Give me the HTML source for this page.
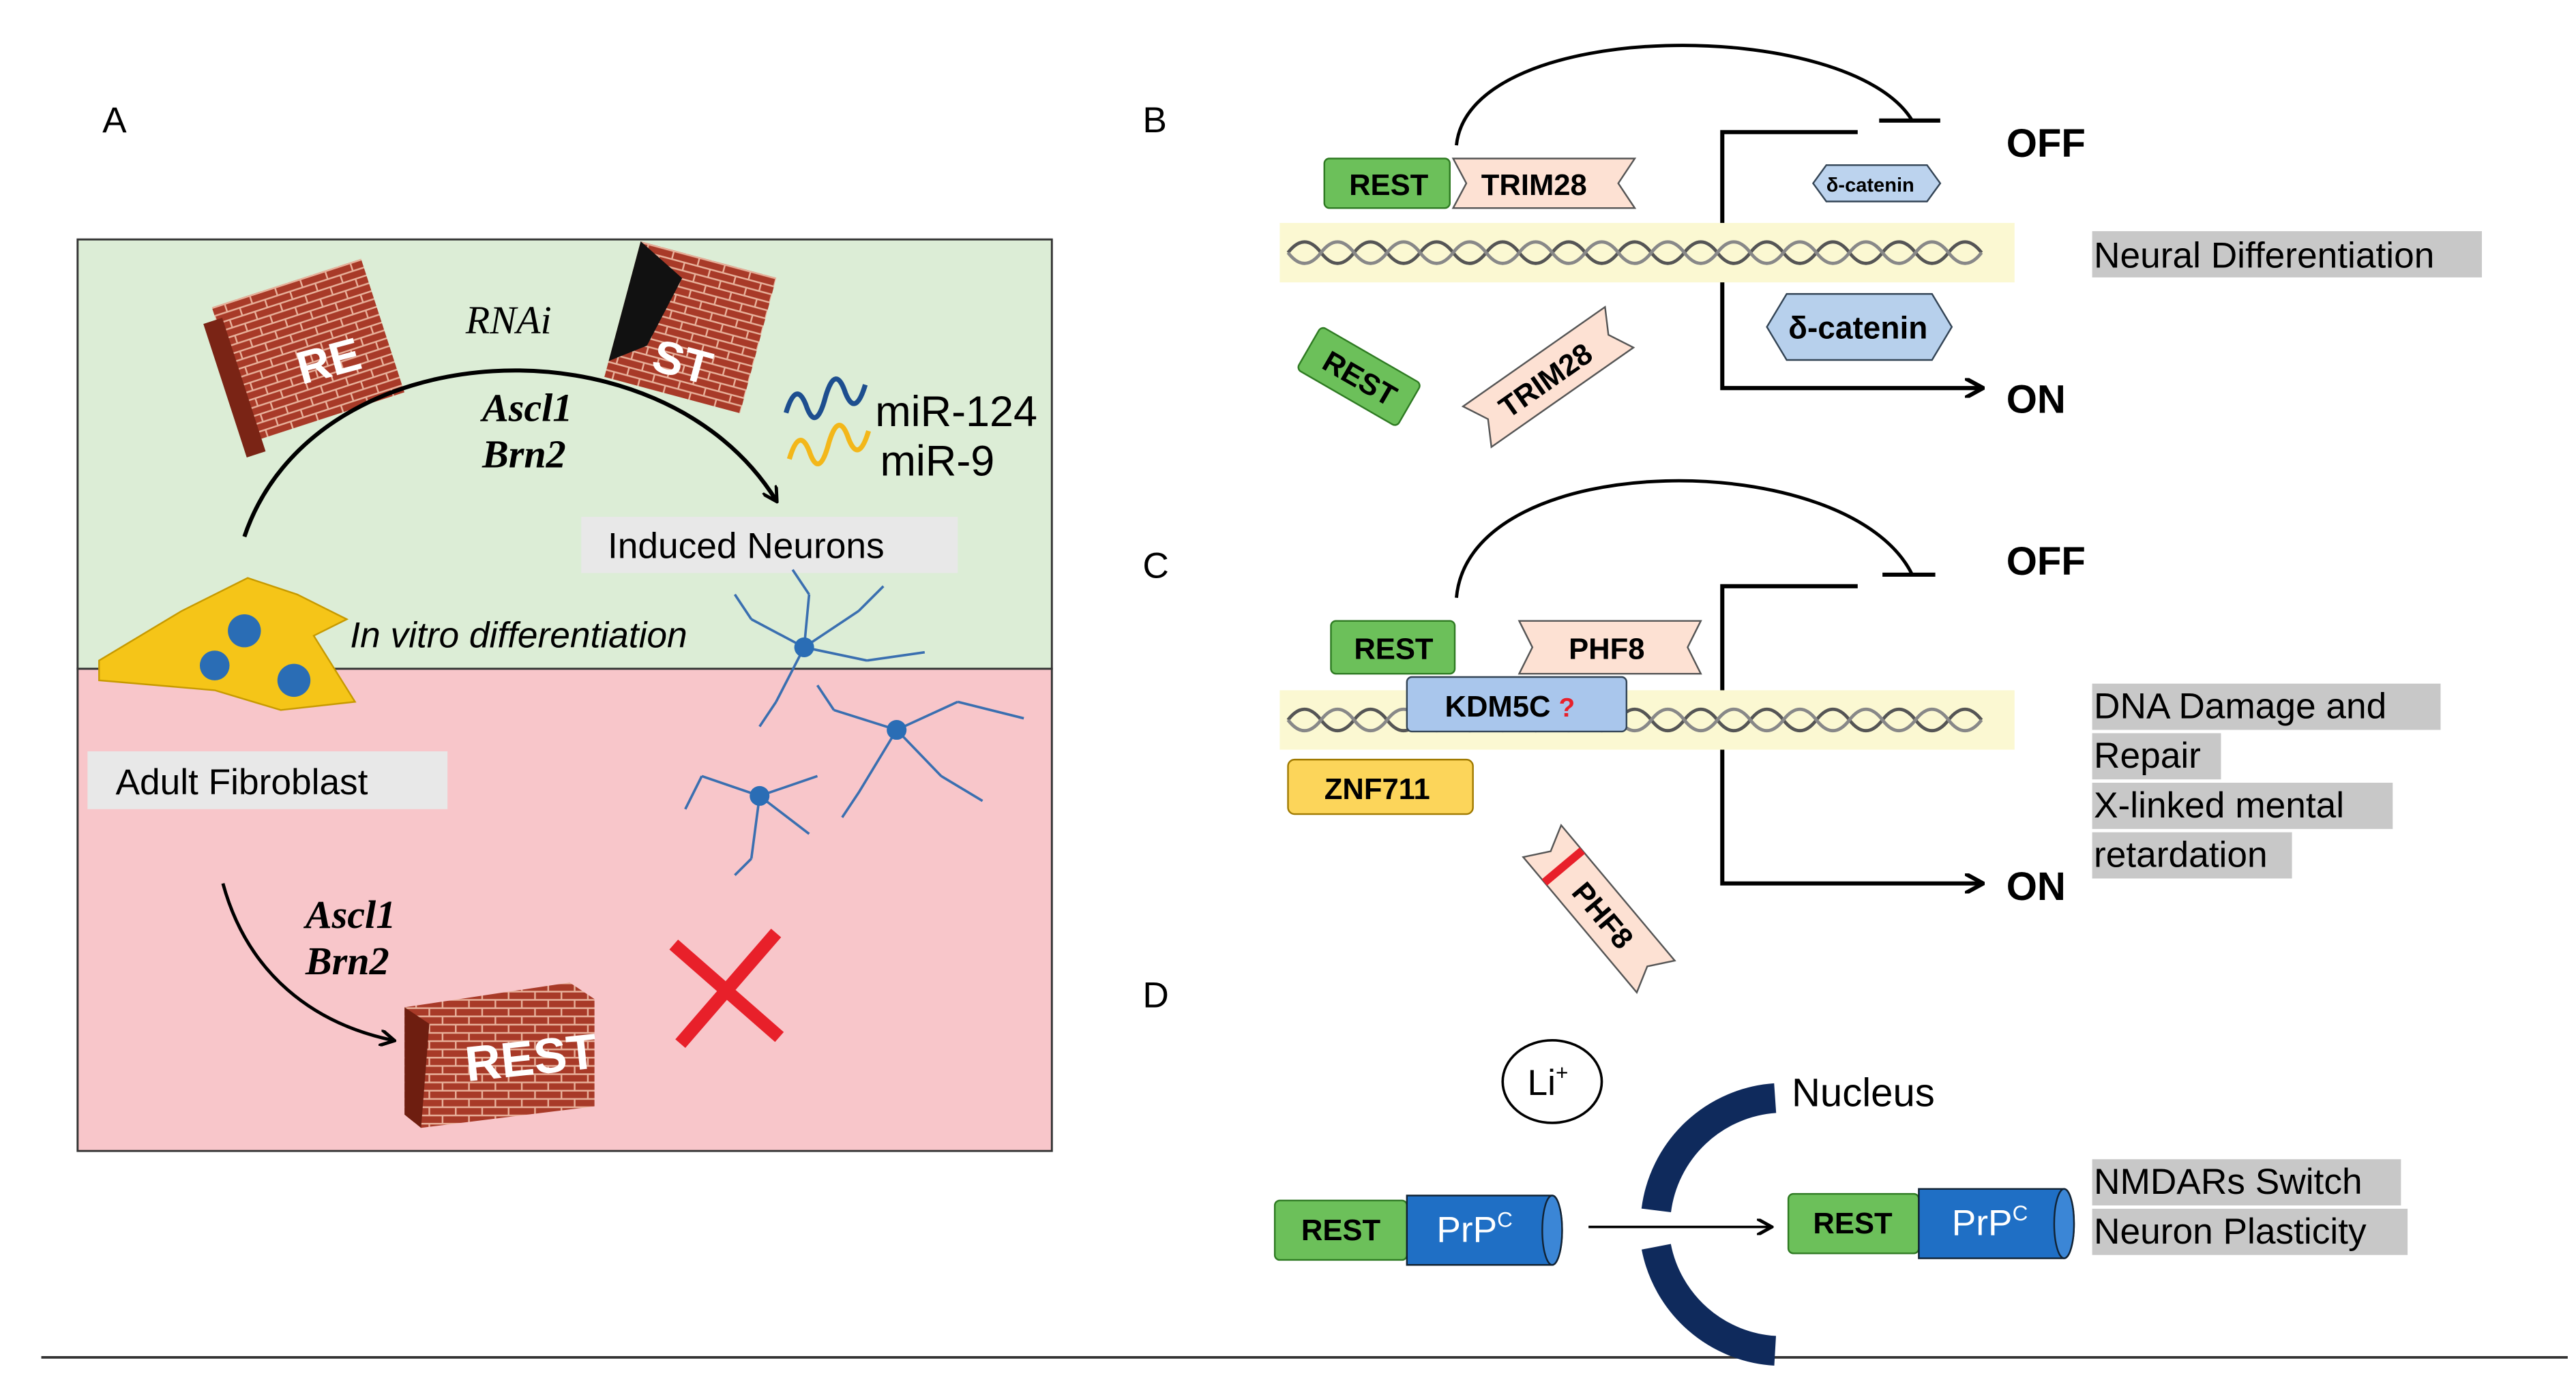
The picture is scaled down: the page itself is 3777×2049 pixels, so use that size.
<!DOCTYPE html>
<html><head><meta charset="utf-8"><style>
html,body{margin:0;padding:0;background:#fff;}
svg{display:block;}
text{font-family:"Liberation Sans",sans-serif;}
.ser{font-family:"Liberation Serif",serif;}
</style></head><body>
<svg width="3777" height="2049" viewBox="0 0 1560 846" preserveAspectRatio="none" xmlns="http://www.w3.org/2000/svg">
<defs>
<pattern id="brick" width="16" height="10" patternUnits="userSpaceOnUse">
<rect width="16" height="10" fill="#a83a28"/>
<path d="M0 0.5H16M0 5.5H16M4 0.5V5.5M12 5.5V10" stroke="#e8b09a" stroke-width="1"/>
</pattern>
<marker id="ah" markerWidth="10" markerHeight="10" refX="8" refY="5" orient="auto" markerUnits="userSpaceOnUse"><path d="M0 0L9 5L0 10" fill="none" stroke="#000" stroke-width="2"/></marker>
<marker id="ah2" markerWidth="12" markerHeight="12" refX="10" refY="6" orient="auto" markerUnits="userSpaceOnUse"><path d="M0 0L11 6L0 12" fill="none" stroke="#000" stroke-width="2.5"/></marker>
<g id="dna">
<rect x="0" y="0" width="445" height="36" fill="#fbf8d2"/>
<path d="M5 18 Q 15 5 25 18 T 45 18 T 65 18 T 85 18 T 105 18 T 125 18 T 145 18 T 165 18 T 185 18 T 205 18 T 225 18 T 245 18 T 265 18 T 285 18 T 305 18 T 325 18 T 345 18 T 365 18 T 385 18 T 405 18 T 425 18" fill="none" stroke="#555" stroke-width="2"/>
<path d="M5 18 Q 15 31 25 18 T 45 18 T 65 18 T 85 18 T 105 18 T 125 18 T 145 18 T 165 18 T 185 18 T 205 18 T 225 18 T 245 18 T 265 18 T 285 18 T 305 18 T 325 18 T 345 18 T 365 18 T 385 18 T 405 18 T 425 18" fill="none" stroke="#888" stroke-width="2"/>
</g>
</defs>

<!-- Panel A -->
<text x="62" y="80" font-size="22">A</text>
<rect x="47" y="145" width="590" height="260" fill="#dcedd6" stroke="#333" stroke-width="1.2"/>
<rect x="47" y="405" width="590" height="292" fill="#f8c6ca" stroke="#333" stroke-width="1.2"/>
<g transform="rotate(-18 185 215)"><rect x="140" y="170" width="95" height="85" fill="url(#brick)"/><rect x="132" y="178" width="12" height="85" fill="#7a2415"/></g>
<text x="180" y="228" font-size="28" font-weight="bold" fill="#fff" transform="rotate(-15 200 220)">RE</text>
<g transform="rotate(15 415 200)"><rect x="375" y="155" width="85" height="85" fill="url(#brick)"/><path d="M375 155 L405 170 L395 215 L375 230Z" fill="#111"/></g>
<text x="395" y="228" font-size="28" font-weight="bold" fill="#fff" transform="rotate(15 410 220)">ST</text>
<text x="282" y="202" font-size="24" font-style="italic" class="ser">RNAi</text>
<path d="M148 325 C 190 200 400 190 470 303" fill="none" stroke="#000" stroke-width="2.5" marker-end="url(#ah)"/>
<text x="292" y="255" font-size="24" font-weight="bold" font-style="italic" class="ser">Ascl1</text>
<text x="292" y="283" font-size="24" font-weight="bold" font-style="italic" class="ser">Brn2</text>
<path d="M476 250 q6 -20 12 -5 q6 18 12 -5 q6 -20 12 -2 q6 15 12 -5" fill="none" stroke="#1d4e8f" stroke-width="3"/>
<path d="M478 278 q6 -20 12 -5 q6 18 12 -5 q6 -20 12 -2 q6 15 12 -5" fill="none" stroke="#f3b71a" stroke-width="3"/>
<text x="530" y="258" font-size="26">miR-124</text>
<text x="533" y="288" font-size="26">miR-9</text>
<rect x="352" y="313" width="228" height="34" fill="#e8e8e8"/>
<text x="368" y="338" font-size="22">Induced Neurons</text>
<path d="M60 400 L110 370 L150 350 L180 360 L210 375 L190 385 L215 425 L170 430 L130 418 L60 412Z" fill="#f5c518" stroke="#c79a00"/>
<circle cx="148" cy="382" r="10" fill="#2a6db5"/><circle cx="130" cy="403" r="9" fill="#2a6db5"/><circle cx="178" cy="412" r="10" fill="#2a6db5"/>
<text x="212" y="392" font-size="22" font-style="italic">In vitro differentiation</text>
<g stroke="#3a6fb0" stroke-width="1.5" fill="none">
<path d="M487 392 L455 375 M487 392 L520 370 M487 392 L470 425 M487 392 L525 400 M455 375 L445 360 M520 370 L535 355 M470 425 L460 440 M525 400 L560 395 M487 392 L490 360 M490 360 L480 345"/>
<path d="M543 442 L505 430 M543 442 L580 425 M543 442 L570 470 M543 442 L520 480 M580 425 L620 435 M505 430 L495 415 M570 470 L595 485 M520 480 L510 495"/>
<path d="M460 482 L425 470 M460 482 L495 470 M460 482 L455 520 M460 482 L490 505 M425 470 L415 490 M455 520 L445 530"/>
</g>
<circle cx="487" cy="392" r="6" fill="#2a6db5"/><circle cx="543" cy="442" r="6" fill="#2a6db5"/><circle cx="460" cy="482" r="6" fill="#2a6db5"/>
<rect x="53" y="455" width="218" height="35" fill="#e8e8e8"/>
<text x="70" y="481" font-size="22">Adult Fibroblast</text>
<path d="M135 535 C 150 590 190 620 238 630" fill="none" stroke="#000" stroke-width="2" marker-end="url(#ah)"/>
<text x="185" y="562" font-size="24" font-weight="bold" font-style="italic" class="ser">Ascl1</text>
<text x="185" y="590" font-size="24" font-weight="bold" font-style="italic" class="ser">Brn2</text>
<path d="M245 610 L345 595 L360 605 L360 670 L255 683 L245 675Z" fill="url(#brick)"/>
<path d="M245 610 L260 620 L255 683 L245 675Z" fill="#6e1e10"/>
<text x="282" y="652" font-size="30" font-weight="bold" fill="#fff" transform="rotate(-6 310 645)">REST</text>
<path d="M408 572 L472 628 M470 565 L412 632" stroke="#e8202a" stroke-width="8"/>

<line x1="25" y1="822" x2="1555" y2="822" stroke="#333" stroke-width="1.5"/>

<!-- Panel B -->
<text x="692" y="80" font-size="22">B</text>
<path d="M882 88 C 890 10 1120 10 1158 73" fill="none" stroke="#000" stroke-width="2"/>
<line x1="1138" y1="73" x2="1175" y2="73" stroke="#000" stroke-width="2.5"/>
<path d="M1125 80 H1043 V235 H1200" fill="none" stroke="#000" stroke-width="2.5" marker-end="url(#ah2)"/>
<text x="1215" y="95" font-size="24" font-weight="bold">OFF</text>
<text x="1215" y="250" font-size="24" font-weight="bold">ON</text>
<use href="#dna" x="775" y="135"/>
<rect x="802" y="96" width="76" height="30" rx="3" fill="#6cc05a" stroke="#2e7a22"/>
<text x="817" y="118" font-size="18" font-weight="bold">REST</text>
<path d="M880 96 H990 L980 111 L990 126 H880 L888 111Z" fill="#fde1d3" stroke="#555"/>
<text x="897" y="118" font-size="18" font-weight="bold">TRIM28</text>
<path d="M1098 111 L1106 100 H1167 L1175 111 L1167 122 H1106Z" fill="#bcd3ee" stroke="#345"/>
<text x="1106" y="116" font-size="12" font-weight="bold">δ-catenin</text>
<path d="M1070 198 L1082 178 H1170 L1182 198 L1170 218 H1082Z" fill="#b7d0ec" stroke="#345"/>
<text x="1083" y="205" font-size="19" font-weight="bold">δ-catenin</text>
<g transform="rotate(30 823 228)"><rect x="788" y="213" width="70" height="30" rx="3" fill="#6cc05a" stroke="#2e7a22"/><text x="800" y="235" font-size="18" font-weight="bold">REST</text></g>
<g transform="rotate(-35 938 228)"><path d="M885 213 H990 L982 228 L990 243 H885 L893 228Z" fill="#fde1d3" stroke="#555"/><text x="903" y="235" font-size="18" font-weight="bold">TRIM28</text></g>
<rect x="1267" y="140" width="236" height="28" fill="#c8c8c8"/>
<text x="1268" y="162" font-size="22">Neural Differentiation</text>

<!-- Panel C -->
<text x="692" y="350" font-size="22">C</text>
<path d="M882 362 C 890 270 1120 270 1158 348" fill="none" stroke="#000" stroke-width="2"/>
<line x1="1140" y1="348" x2="1172" y2="348" stroke="#000" stroke-width="2.5"/>
<path d="M1125 355 H1043 V535 H1200" fill="none" stroke="#000" stroke-width="2.5" marker-end="url(#ah2)"/>
<text x="1215" y="348" font-size="24" font-weight="bold">OFF</text>
<text x="1215" y="545" font-size="24" font-weight="bold">ON</text>
<use href="#dna" x="775" y="418"/>
<rect x="806" y="376" width="75" height="32" rx="3" fill="#6cc05a" stroke="#2e7a22"/>
<text x="820" y="399" font-size="18" font-weight="bold">REST</text>
<path d="M920 376 H1030 L1022 392 L1030 408 H920 L928 392Z" fill="#fde1d3" stroke="#555"/>
<text x="950" y="399" font-size="18" font-weight="bold">PHF8</text>
<rect x="852" y="410" width="133" height="33" rx="3" fill="#a9c6ec" stroke="#345"/>
<text x="875" y="434" font-size="18" font-weight="bold">KDM5C <tspan fill="#e8202a" font-size="16">?</tspan></text>
<rect x="780" y="460" width="112" height="33" rx="4" fill="#fcd55a" stroke="#a07a00"/>
<text x="802" y="484" font-size="18" font-weight="bold">ZNF711</text>
<g transform="rotate(50 968 550)"><path d="M915 535 H1022 L1014 550 L1022 565 H915 L923 550Z" fill="#fde1d3" stroke="#555"/><line x1="935" y1="535" x2="935" y2="565" stroke="#e8202a" stroke-width="5"/><text x="950" y="557" font-size="18" font-weight="bold">PHF8</text></g>
<rect x="1267" y="414" width="211" height="28" fill="#c8c8c8"/>
<rect x="1267" y="444" width="78" height="28" fill="#c8c8c8"/>
<rect x="1267" y="474" width="182" height="28" fill="#c8c8c8"/>
<rect x="1267" y="504" width="121" height="28" fill="#c8c8c8"/>
<text x="1268" y="435" font-size="22">DNA Damage and</text>
<text x="1268" y="465" font-size="22">Repair</text>
<text x="1268" y="495" font-size="22">X-linked mental</text>
<text x="1268" y="525" font-size="22">retardation</text>

<!-- Panel D -->
<text x="692" y="610" font-size="22">D</text>
<ellipse cx="940" cy="655" rx="30" ry="25" fill="#fff" stroke="#000" stroke-width="1.5"/>
<text x="925" y="663" font-size="22">Li<tspan font-size="13" dy="-9">+</tspan></text>
<path d="M1075 665 A78 78 0 0 0 1003 733" fill="none" stroke="#0f2a5c" stroke-width="18"/>
<path d="M1003 755 A78 78 0 0 0 1075 818" fill="none" stroke="#0f2a5c" stroke-width="18"/>
<text x="1085" y="670" font-size="24">Nucleus</text>
<line x1="962" y1="743" x2="1072" y2="743" stroke="#000" stroke-width="1.5" marker-end="url(#ah)"/>
<g>
<rect x="772" y="727" width="80" height="36" rx="3" fill="#6cc05a" stroke="#2e7a22"/>
<text x="788" y="751" font-size="18" font-weight="bold">REST</text>
<path d="M852 724 H940 A6 21 0 0 1 940 766 H852Z" fill="#1f6fc5" stroke="#123"/>
<ellipse cx="940" cy="745" rx="6" ry="21" fill="#3b86d6" stroke="#123"/>
<text x="870" y="752" font-size="22" fill="#fff">PrP<tspan font-size="13" dy="-9">C</tspan></text>
</g>
<g>
<rect x="1083" y="723" width="79" height="36" rx="3" fill="#6cc05a" stroke="#2e7a22"/>
<text x="1098" y="747" font-size="18" font-weight="bold">REST</text>
<path d="M1162 720 H1250 A6 21 0 0 1 1250 762 H1162Z" fill="#1f6fc5" stroke="#123"/>
<ellipse cx="1250" cy="741" rx="6" ry="21" fill="#3b86d6" stroke="#123"/>
<text x="1182" y="748" font-size="22" fill="#fff">PrP<tspan font-size="13" dy="-9">C</tspan></text>
</g>
<rect x="1267" y="702" width="187" height="28" fill="#c8c8c8"/>
<rect x="1267" y="732" width="191" height="28" fill="#c8c8c8"/>
<text x="1268" y="723" font-size="22">NMDARs Switch</text>
<text x="1268" y="753" font-size="22">Neuron Plasticity</text>
</svg>
</body></html>
